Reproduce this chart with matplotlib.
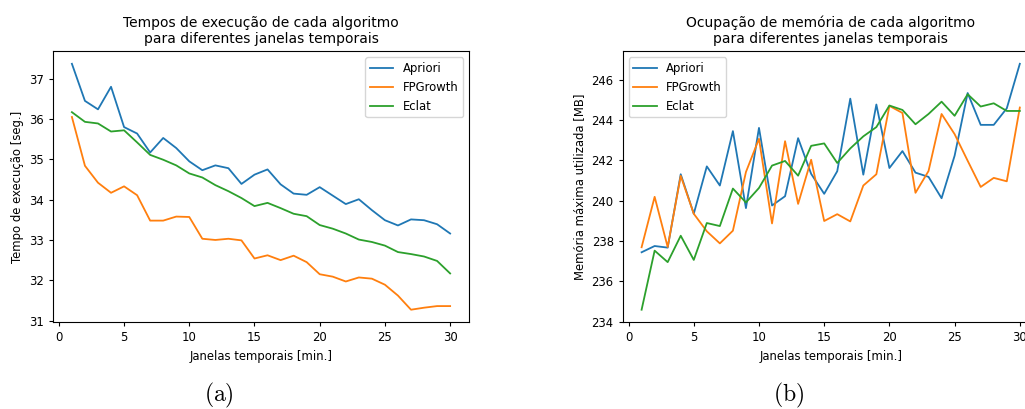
import matplotlib.pyplot as plt

# janelas temporais (min.)
janelas = list(range(1, 31))

# tempos de execução [seg.]
tempo_apriori = [37.37, 36.45, 36.24, 36.80, 35.80, 35.64, 35.17, 35.53, 35.28, 34.95,
                 34.73, 34.85, 34.78, 34.39, 34.62, 34.75, 34.38, 34.15, 34.12, 34.31,
                 34.10, 33.89, 34.01, 33.74, 33.49, 33.36, 33.51, 33.49, 33.39, 33.16]
tempo_fpgrowth = [36.05, 34.84, 34.42, 34.17, 34.33, 34.11, 33.48, 33.48, 33.58, 33.57,
                  33.03, 33.00, 33.03, 32.99, 32.54, 32.62, 32.50, 32.61, 32.45, 32.15,
                  32.09, 31.97, 32.07, 32.04, 31.89, 31.62, 31.27, 31.32, 31.36, 31.36]
tempo_eclat = [36.17, 35.93, 35.89, 35.69, 35.72, 35.42, 35.11, 34.99, 34.85, 34.65,
               34.55, 34.36, 34.21, 34.04, 33.84, 33.92, 33.79, 33.65, 33.59, 33.37,
               33.28, 33.16, 33.01, 32.95, 32.86, 32.70, 32.65, 32.59, 32.48, 32.17]

# memória máxima utilizada [MB]
mem_apriori = [237.44, 237.75, 237.67, 241.31, 239.35, 241.70, 240.75, 243.45, 239.63, 243.61,
               239.76, 240.22, 243.10, 241.33, 240.34, 241.46, 245.06, 241.29, 244.77, 241.62,
               242.46, 241.39, 241.18, 240.12, 242.23, 245.34, 243.76, 243.76, 244.58, 246.79]
mem_fpgrowth = [237.69, 240.19, 237.70, 241.23, 239.35, 238.48, 237.88, 238.51, 241.42, 243.07,
                238.87, 242.95, 239.84, 242.03, 238.99, 239.33, 238.97, 240.75, 241.31, 244.70,
                244.35, 240.39, 241.47, 244.30, 243.30, 241.98, 240.68, 241.13, 240.96, 244.62]
mem_eclat = [234.59, 237.52, 236.95, 238.26, 237.06, 238.89, 238.74, 240.60, 239.91, 240.63,
             241.74, 241.97, 241.24, 242.72, 242.84, 241.87, 242.59, 243.19, 243.65, 244.72,
             244.50, 243.79, 244.30, 244.91, 244.21, 245.28, 244.67, 244.83, 244.45, 244.45]

algoritmos = ["Apriori", "FPGrowth", "Eclat"]

plt.rcParams['font.family'] = ['DejaVu Sans']
plt.rcParams['mathtext.fontset'] = 'cm'
fs = 8.4
lw = 1.3

fig = plt.figure(figsize=(10.25, 4.09), dpi=100)

# the right panel is cut off by the image edge, as in the original
ax1 = fig.add_axes([0.0517, 0.2127, 0.4059, 0.6614])
ax2 = fig.add_axes([0.6075, 0.2127, 0.4059, 0.6614])

for serie, nome in zip([tempo_apriori, tempo_fpgrowth, tempo_eclat], algoritmos):
    ax1.plot(janelas, serie, label=nome, linewidth=lw)
ax1.set_title("Tempos de execução de cada algoritmo\npara diferentes janelas temporais",
              fontsize=10)
ax1.set_xlabel("Janelas temporais [min.]", fontsize=fs)
ax1.set_ylabel("Tempo de execução [seg.]", fontsize=fs)
ax1.legend(loc="upper right", fontsize=fs)

for serie, nome in zip([mem_apriori, mem_fpgrowth, mem_eclat], algoritmos):
    ax2.plot(janelas, serie, label=nome, linewidth=lw)
ax2.set_title("Ocupação de memória de cada algoritmo\npara diferentes janelas temporais",
              fontsize=10)
ax2.set_xlabel("Janelas temporais [min.]", fontsize=fs)
ax2.set_ylabel("Memória máxima utilizada [MB]", fontsize=fs)
ax2.legend(loc="upper left", fontsize=fs)

for ax in (ax1, ax2):
    ax.set_xticks([0, 5, 10, 15, 20, 25, 30])
    ax.tick_params(labelsize=fs, width=0.8, length=3)

fig.text(0.2137, 0.032, r"$\mathrm{(a)}$", fontsize=17, ha="center", va="center")
fig.text(0.769, 0.032, r"$\mathrm{(b)}$", fontsize=17, ha="center", va="center")

fig.savefig("out.png", dpi=100)
